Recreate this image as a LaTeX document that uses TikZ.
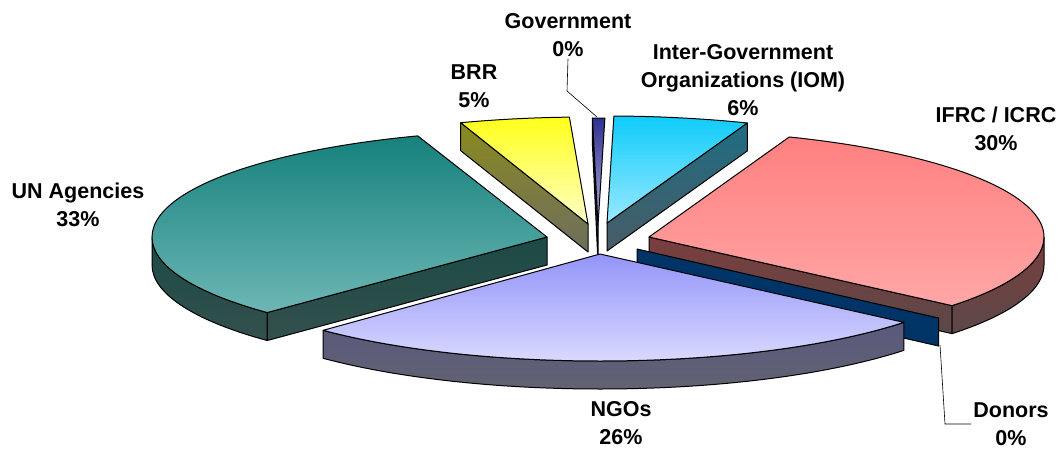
\documentclass[tikz,border=0pt]{standalone}
\usepackage{fontspec}
\setmainfont{Liberation Sans}
\definecolor{untopA}{HTML}{16817C}
\definecolor{untopB}{HTML}{6DB7B5}
\definecolor{unsideA}{HTML}{1B4A45}
\definecolor{unsideB}{HTML}{34504D}
\definecolor{brrtopA}{HTML}{FFFF1A}
\definecolor{brrtopB}{HTML}{FFFFC8}
\definecolor{brrsideA}{HTML}{8A8A1E}
\definecolor{brrsideB}{HTML}{6E6E60}
\definecolor{govtopA}{HTML}{303090}
\definecolor{govtopB}{HTML}{B0B0E0}
\definecolor{govside}{HTML}{1A1A50}
\definecolor{iomtopA}{HTML}{0FCCFA}
\definecolor{iomtopB}{HTML}{9AE9FF}
\definecolor{iomsideA}{HTML}{1F6C82}
\definecolor{iomsideB}{HTML}{485C66}
\definecolor{ifrctopA}{HTML}{FF8080}
\definecolor{ifrctopB}{HTML}{FFA6A6}
\definecolor{ifrcsideA}{HTML}{7B3D3D}
\definecolor{ifrcsideB}{HTML}{5B4848}
\definecolor{donorside}{HTML}{003366}
\definecolor{ngotopA}{HTML}{9494FA}
\definecolor{ngotopB}{HTML}{DCDCFF}
\definecolor{ngosideA}{HTML}{4F4F88}
\definecolor{ngosideB}{HTML}{636372}
\begin{document}
\begin{tikzpicture}
  [x=1pt,y=-1pt,
   every node/.style={font=\bfseries\fontsize{21.5}{28}\selectfont,align=center,inner sep=2pt},
   face/.style={draw=black,line width=1pt,line join=round},
   leader/.style={draw=black,line width=0.6pt}]

  \useasboundingbox (0,0) rectangle (1059,450);

  % apex of every slice
  \coordinate (brrA) at (588,224);
  \coordinate (govA) at (598,225);
  \coordinate (iomA) at (607,223);
  \coordinate (unA) at (547,237);
  \coordinate (ifrcA) at (649,237);
  \coordinate (donorA) at (637,249);
  \coordinate (ngoA) at (600,254);

  % BRR
  \path[face,top color=brrsideA,bottom color=brrsideB] (brrA) -- ++(251.2:395 and 107) -- ++(0,28) -- ([yshift=-28pt]brrA) -- cycle;
  \path[face,top color=brrtopA,bottom color=brrtopB] (brrA) -- ++(251.2:395 and 107)
    arc[start angle=251.2,end angle=267.3,x radius=395,y radius=107] -- cycle;

  % Government
  \path[face,fill=govside] (govA) -- ++(-90.8:395 and 107) -- ++(0,28) -- ([yshift=-38pt]govA) -- cycle;
  \path[face,top color=govtopA,bottom color=govtopB] (govA) -- ++(-90.8:395 and 107)
    arc[start angle=-90.8,end angle=-89,x radius=395,y radius=107] -- cycle;

  % Inter-Government Organizations
  \path[face,top color=iomsideA,bottom color=iomsideB] (iomA) -- ++(-69.2:395 and 107) -- ++(0,28) -- ([yshift=-28pt]iomA) -- cycle;
  \path[face,top color=iomtopA,bottom color=iomtopB] (iomA) -- ++(-89:395 and 107)
    arc[start angle=-89,end angle=-69.2,x radius=395,y radius=107] -- cycle;

  % UN Agencies
  \path[face,top color=unsideA,bottom color=unsideB] (unA) -- ++(135.1:395 and 107) -- ++(0,28) -- ([yshift=-28pt]unA) -- cycle;
  \path[face,top color=unsideA,bottom color=unsideB] (unA) ++(135.1:395 and 107)
    arc[start angle=135.1,end angle=180,x radius=395,y radius=107] -- ++(0,28)
    arc[start angle=180,end angle=135.1,x radius=395,y radius=107] -- cycle;
  \path[face,top color=untopA,bottom color=untopB] (unA) -- ++(135.1:395 and 107)
    arc[start angle=135.1,end angle=250.9,x radius=395,y radius=107] -- cycle;

  % IFRC / ICRC
  \path[face,top color=ifrcsideA,bottom color=ifrcsideB] (ifrcA) -- ++(39.9:395 and 107) -- ++(0,28) -- ([yshift=-28pt]ifrcA) -- cycle;
  \path[face,top color=ifrcsideA,bottom color=ifrcsideB] (ifrcA) ++(0:395 and 107)
    arc[start angle=0,end angle=39.9,x radius=395,y radius=107] -- ++(0,28)
    arc[start angle=39.9,end angle=0,x radius=395,y radius=107] -- cycle;
  \path[face,top color=ifrctopA,bottom color=ifrctopB] (ifrcA) -- ++(-69.2:395 and 107)
    arc[start angle=-69.2,end angle=39.9,x radius=395,y radius=107] -- cycle;

  % Donors
  \path[face,fill=donorside] (donorA) -- ++(40.2:395 and 107) -- ++(0,28) -- ([yshift=-28pt]donorA) -- cycle;

  % NGOs
  \path[face,top color=ngosideA,bottom color=ngosideB] (ngoA) ++(39.7:395 and 107)
    arc[start angle=39.7,end angle=134.5,x radius=395,y radius=107] -- ++(0,28)
    arc[start angle=134.5,end angle=39.7,x radius=395,y radius=107] -- cycle;
  \path[face,top color=ngotopA,bottom color=ngotopB] (ngoA) -- ++(39.7:395 and 107)
    arc[start angle=39.7,end angle=134.5,x radius=395,y radius=107] -- cycle;

  % labels
  \node (gov) at (568,35) {Government\\0\%};
  \node (brr) at (474,86) {BRR\\5\%};
  \node (iom) at (743,80) {Inter-Government\\Organizations (IOM)\\6\%};
  \node (ifrc) at (996,129) {IFRC / ICRC\\30\%};
  \node (un) at (78,205) {UN Agencies\\33\%};
  \node (ngo) at (621,423) {NGOs\\26\%};
  \node (donors) at (1011,424) {Donors\\0\%};

  % leaders
  \coordinate (govbend) at (567,91);
  \coordinate (govtip) at (597,117);
  \coordinate (donortip) at (940,345);
  \coordinate (donorbend) at (945,424);
  \draw[leader] (gov.south) -- (govbend) -- (govtip);
  \draw[leader] (donortip) -- (donorbend) -- (donors.west);
\end{tikzpicture}
\end{document}
